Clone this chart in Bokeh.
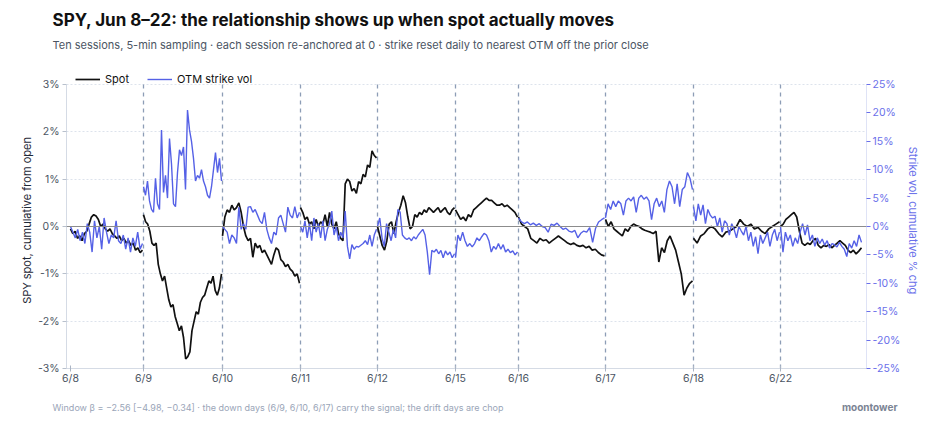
import numpy as np
from bokeh.plotting import figure
from bokeh.models import (Range1d, LinearAxis, FixedTicker, PrintfTickFormatter,
                          Span, Legend, LegendItem, Title)
from bokeh.embed import file_html
from bokeh.resources import INLINE

# ---------------- data ----------------
session_labels = ["6/8", "6/9", "6/10", "6/11", "6/12", "6/15", "6/16", "6/17", "6/18", "6/22"]
session_bars = [73, 79, 78, 77, 78, 63, 87, 88, 87, 82]

spot_0608 = [-0.05, -0.15, -0.1, -0.25, -0.2, -0.3, -0.15, -0.1, 0.05, 0.2, 0.25, 0.22, 0.15, 0.0, 0.05,
             -0.05, -0.1, -0.05, -0.15, -0.2, -0.25, -0.2, -0.3, -0.25, -0.35, -0.3, -0.4, -0.35, -0.5, -0.45,
             -0.55, -0.5]
spot_0609 = [0.25, 0.1, 0.05, -0.1, -0.35, -0.4, -0.35, -0.8, -1.0, -1.15, -1.05, -1.3, -1.55, -1.7, -1.65,
             -1.9, -2.05, -2.2, -2.1, -2.35, -2.8, -2.75, -2.65, -2.2, -2.0, -1.8, -1.85, -1.6, -1.5, -1.45,
             -1.3, -1.15, -1.2, -1.05, -1.35, -1.45, -1.3, -1.0]
spot_0610 = [-0.2, 0.2, 0.35, 0.3, 0.45, 0.35, 0.4, 0.5, 0.3, 0.0, -0.2, -0.3, -0.25, -0.65, -0.35, -0.45,
             -0.4, -0.55, -0.5, -0.6, -0.7, -0.8, -0.6, -0.45, -0.5, -0.7, -0.75, -0.85, -0.8, -0.9, -0.95,
             -1.05, -1.0, -1.2]
spot_0611 = [0.4, 0.3, 0.15, 0.2, 0.05, 0.1, -0.05, 0.15, 0.0, 0.1, 0.05, 0.25, 0.0, 0.3, 0.05, -0.05, 0.1,
             -0.15, -0.25, -0.3, 0.9, 1.0, 0.95, 0.75, 0.8, 0.7, 0.95, 0.9, 1.1, 1.05, 1.3, 1.25, 1.6, 1.5, 1.45]
spot_0612 = [0.0, -0.2, -0.4, -0.5, -0.3, 0.05, 0.1, -0.15, 0.1, 0.3, 0.45, 0.65, 0.5, 0.2, -0.05, 0.0, 0.25,
             0.2, 0.3, 0.25, 0.35, 0.3, 0.4, 0.35, 0.3, 0.35, 0.4, 0.3, 0.35, 0.4, 0.3, 0.25, 0.35, 0.4]
spot_0615 = [0.35, 0.25, 0.15, 0.2, 0.12, 0.25, 0.2, 0.35, 0.4, 0.45, 0.5, 0.55, 0.6, 0.55, 0.55, 0.5, 0.45,
             0.45, 0.48, 0.42, 0.45, 0.4, 0.35, 0.3, 0.2]
spot_0616 = [0.2, 0.05, 0.0, -0.05, -0.25, -0.3, -0.35, -0.25, -0.3, -0.28, -0.35, -0.3, -0.25, -0.2, -0.25,
             -0.3, -0.35, -0.38, -0.35, -0.4, -0.42, -0.4, -0.45, -0.42, -0.5, -0.48, -0.55, -0.6, -0.62]
spot_0617 = [0.15, 0.0, 0.1, -0.05, -0.1, -0.15, -0.2, -0.05, -0.1, 0.0, 0.05, 0.02, 0.0, -0.05, -0.08, -0.1,
             -0.12, -0.15, -0.1, -0.75, -0.45, -0.55, -0.3, -0.2, -0.35, -0.5, -0.75, -1.0, -1.45, -1.3, -1.2,
             -1.15]
spot_0618 = [-0.25, -0.35, -0.2, -0.15, -0.05, 0.0, -0.05, -0.15, -0.22, -0.12, -0.1, -0.05, 0.0, 0.15, 0.05,
             0.0, 0.05, -0.05, -0.02, -0.1, -0.15, -0.05, 0.0, 0.05, 0.1]
spot_0622 = [0.0, 0.05, 0.15, 0.2, 0.25, 0.3, 0.2, -0.1, -0.35, -0.4, -0.35, -0.38, -0.3, -0.25, -0.4, -0.45,
             -0.4, -0.42, -0.38, -0.45, -0.4, -0.35, -0.3, -0.35, -0.4, -0.5, -0.55, -0.5, -0.58, -0.52, -0.45]

vol_0608 = [0, -1, -2, -0.5, -2.5, -1, -3, 0.5, -1, -4.5, 1, -2, 0, -4, 1.5, -1, -3, -1.5, -2, 1, -2.5, -3,
            -1.5, -4, -2, -4.5, -2, -3.5, -1, -4, -3]
vol_0609 = [7, 5.5, 8, 4.5, 3, 2.5, 8.5, 4, 3, 17, 6, 9, 5, 15.5, 11, 4, 3.5, 9.5, 13.5, 12.5, 14, 6.5, 20.5,
            17, 15, 12, 8, 9, 8.5, 10, 8, 7, 5.5, 5, 7, 10, 13, 9.5, 12, 8]
vol_0610 = [0, -0.5, -1, -3, -1.5, -2, -3, 3.4, -0.5, 0.5, -0.5, 3.4, 3.5, 2.5, 3, 2, 1, 0.5, 2.5, -0.5, -2,
            -3, -1, -1.5, 1.5, 2, 0.5, -1, 3.4, 2, 1.5, 3.5, 1.5, 2.5]
vol_0611 = [0, -1, 1, -2, 0.5, -2.5, 1.5, -1, 0.5, -2, 1, -2.5, -0.5, 0.5, 2.7, -1.5, 0, -2.5, -1, -2, 2.7,
            -3.5, -5.7, -3.2, -4, -3.5, -3.6, -3.3, -3, -2.5, -3.2, -1.5, -3.5, -1.5, -0.5]
vol_0612 = [0, 1.5, -2, -3.5, 0.5, -1, -2.5, -0.5, -2, 3, 2.5, -1.5, -2, -2.3, -2, -2.5, -1.8, -2.2, -1.5, -1,
            -0.5, -1.5, -4.5, -8.5, -4.2, -4.5, -4, -4.8, -4.2, -5.5, -4.3, -5, -4.5, -5.5, -4.8]
vol_0615 = [-5.5, -1.5, -2.5, -1, -2.5, -3.5, -3, -3.6, -3, -2, -2.5, -1.8, -1.2, -1.5, -2.5, -4.5, -3.5, -4,
            -3, -4, -3.2, -4.5, -4, -4.6, -4.3, -5, -4.5]
vol_0616 = [1.5, 0.8, 0.5, 0.8, 0.3, 0.6, 0.2, 0.5, 0, -0.2, -1, 0.4, 0.2, 0.6, 0, -0.5, -0.3, -0.8, -1, -0.7,
            -2, -1.2, -0.8, -1, -0.2, -2.8, -0.3, 0.8, 1.2, 1.5]
vol_0617 = [1.5, 4, 3, 4.5, 3.5, 4.5, 4, 2, 4.5, 5, 4.5, 5.2, 2.5, 5, 5.5, 4.8, 5.2, 4.5, 1.2, 4, 5, 3.5, 4.5,
            2.5, 6.5, 8, 7, 4, 7.5, 3.5, 6.5, 7, 9.5, 8.5, 6.5]
vol_0618 = [3.5, 1, 4, 2, 3.8, 0.5, 3, 2, 1.5, 1.8, 0, 1.5, -1, 1, 0.5, -1.5, 0.5, -0.5, -2, 0, -0.8, -1.5, 0,
            -2.5, -1, -3.5, -1.8, -4.8, -1.5, -3, -2, -1, -3.5, -1.5, -0.5, -2.5, -1]
vol_0622 = [0, -4.5, -1, -2.5, -1.5, -3.5, -2, -3, -1, 0.5, -1.5, 0.3, -2.5, -1.5, -3.5, -2, -3, -2.2, -3.3,
            -2.5, -3.8, -3, -3.2, -3.6, -2.8, -3.5, -4, -5.3, -3, -3.8, -2.5, -3.5, -1.5, -2.8]

spot_sessions = [spot_0608, spot_0609, spot_0610, spot_0611, spot_0612,
                 spot_0615, spot_0616, spot_0617, spot_0618, spot_0622]
vol_sessions = [vol_0608, vol_0609, vol_0610, vol_0611, vol_0612,
                vol_0615, vol_0616, vol_0617, vol_0618, vol_0622]

spot_ticks = [-3, -2, -1, 0, 1, 2, 3]
vol_ticks = [-25, -20, -15, -10, -5, 0, 5, 10, 15, 20, 25]

title_text = "SPY, Jun 8\u201322: the relationship shows up when spot actually moves"
subtitle_text = ("Ten sessions, 5-min sampling \u00b7 each session re-anchored at 0 \u00b7 "
                 "strike reset daily to nearest OTM off the prior close")
footer_text = ("Window \u03b2 = \u22122.56 [\u22124.98, \u22120.34] \u00b7 the down days (6/9, 6/10, 6/17) "
               "carry the signal; the drift days are chop")
brand_text = "moontower"

# ---------------- build ----------------
starts = [0]
for n in session_bars[:-1]:
    starts.append(starts[-1] + n)
total = starts[-1] + session_bars[-1]


def session_x(k, vals):
    return list(starts[k] + np.linspace(0, session_bars[k] - 1, len(vals)))


spot_xs = [session_x(k, v) for k, v in enumerate(spot_sessions)]
vol_xs = [session_x(k, v) for k, v in enumerate(vol_sessions)]

FONT = "Inter"
BLUE = "#5561e6"
BLUE_TXT = "#6a70ea"
AX = "#d5dbe5"

SPOT_LO, SPOT_HI = spot_ticks[0], spot_ticks[-1]
VOL_LO, VOL_HI = vol_ticks[0], vol_ticks[-1]
HEAD = 12  # px of frame kept above the top tick for the legend
px_spot = 284 / (SPOT_HI - SPOT_LO)
px_vol = 284 / (VOL_HI - VOL_LO)

p = figure(frame_width=800, frame_height=284 + HEAD,
           x_range=Range1d(-4, total + 4), y_range=Range1d(SPOT_LO, SPOT_HI + HEAD / px_spot),
           output_backend="svg", toolbar_location=None, title=None,
           min_border_left=66, min_border_right=64, min_border_top=0, min_border_bottom=0)
p.outline_line_color = None
p.extra_y_ranges = {"vol": Range1d(VOL_LO, VOL_HI + HEAD / px_vol)}

p.xgrid.visible = False
p.ygrid.ticker = FixedTicker(ticks=spot_ticks)
p.ygrid.grid_line_color = "#dde3ec"
p.ygrid.grid_line_dash = "2 2"

la = p.yaxis[0]
la.ticker = FixedTicker(ticks=spot_ticks)
la.bounds = (SPOT_LO, SPOT_HI)
la.formatter = PrintfTickFormatter(format="%d%%")
la.axis_label = "SPY spot, cumulative from open"
la.axis_label_text_font = FONT
la.axis_label_text_font_style = "normal"
la.axis_label_text_font_size = "11px"
la.axis_label_text_color = "#1f2937"
la.axis_label_standoff = 1
la.major_label_text_font = FONT
la.major_label_text_font_size = "10.5px"
la.major_label_text_color = "#4b5563"
la.major_label_standoff = 3
la.axis_line_color = AX
la.major_tick_line_color = "#b8c0cc"
la.major_tick_out = 4
la.major_tick_in = 0
la.minor_tick_line_color = None

xa = p.xaxis[0]
xa.ticker = FixedTicker(ticks=starts)
xa.major_label_overrides = {int(s): lab for s, lab in zip(starts, session_labels)}
xa.major_label_text_font = FONT
xa.major_label_text_font_size = "10.5px"
xa.major_label_text_color = "#4b5563"
xa.major_label_standoff = 0
xa.axis_line_color = AX
xa.major_tick_line_color = "#aab4c4"
xa.major_tick_out = 3
xa.major_tick_in = 3
xa.minor_tick_line_color = None

ra = LinearAxis(y_range_name="vol", ticker=FixedTicker(ticks=vol_ticks),
                formatter=PrintfTickFormatter(format="%d%%"),
                axis_label="Strike vol, cumulative % chg")
ra.bounds = (VOL_LO, VOL_HI)
ra.axis_label_text_font = FONT
ra.axis_label_text_font_style = "normal"
ra.axis_label_text_font_size = "11px"
ra.axis_label_text_color = BLUE_TXT
ra.axis_label_standoff = 3
ra.major_label_text_font = FONT
ra.major_label_text_font_size = "10.5px"
ra.major_label_text_color = BLUE_TXT
ra.major_label_standoff = 2
ra.axis_line_color = "#dfe3f6"
ra.major_tick_line_color = BLUE_TXT
ra.major_tick_out = 4
ra.major_tick_in = 0
ra.minor_tick_line_color = None
p.add_layout(ra, "right")

p.add_layout(Span(location=0, dimension="width", line_color="#8c8c8c", line_width=1))
div_x = starts[1:]
p.segment(x0=div_x, x1=div_x, y0=[SPOT_LO] * len(div_x), y1=[SPOT_HI] * len(div_x),
          line_color="#8d9db6", line_width=1.3, line_dash="4 4")

r_spot = p.multi_line(xs=spot_xs, ys=spot_sessions, line_color="#111111", line_width=1.7)
r_vol = p.multi_line(xs=vol_xs, ys=vol_sessions, line_color=BLUE, line_width=1.4, y_range_name="vol")

legend = Legend(items=[LegendItem(label="Spot", renderers=[r_spot]),
                       LegendItem(label="OTM strike vol", renderers=[r_vol])],
                orientation="horizontal", location=(9, 282), padding=0, margin=0,
                spacing=18, label_standoff=5, glyph_width=25, glyph_height=12, label_height=12,
                border_line_color=None, background_fill_alpha=0,
                label_text_font=FONT, label_text_font_size="11px", label_text_color="#111111")
p.add_layout(legend, "center")

# above panels: innermost first (gap spacer, subtitle, title)
p.add_layout(Title(text=" ", align="left", standoff=9, text_font=FONT, text_font_size="10px"), "above")
p.add_layout(Title(text=subtitle_text, align="left", offset=-14, standoff=-4,
                   text_font=FONT, text_font_size="11px", text_font_style="normal",
                   text_color="#4b5563"), "above")
p.add_layout(Title(text=title_text, align="left", offset=-14, standoff=15,
                   text_font=FONT, text_font_size="17px", text_font_style="bold",
                   text_color="#111111"), "above")

# below panels: after the x axis (footer, brand on the same line, bottom spacer)
p.add_layout(Title(text=footer_text, align="left", offset=-14, standoff=24,
                   text_font=FONT, text_font_size="9px", text_font_style="normal",
                   text_color="#9aa5b8"), "below")
p.add_layout(Title(text=brand_text, align="right", offset=-31, standoff=-47, vertical_align="top",
                   text_font=FONT, text_font_size="10px", text_font_style="bold",
                   text_color="#7b8494"), "below")
p.add_layout(Title(text=" ", align="left", standoff=14, text_font=FONT, text_font_size="10px"), "below")

open("out.html", "w").write(file_html(p, INLINE))
